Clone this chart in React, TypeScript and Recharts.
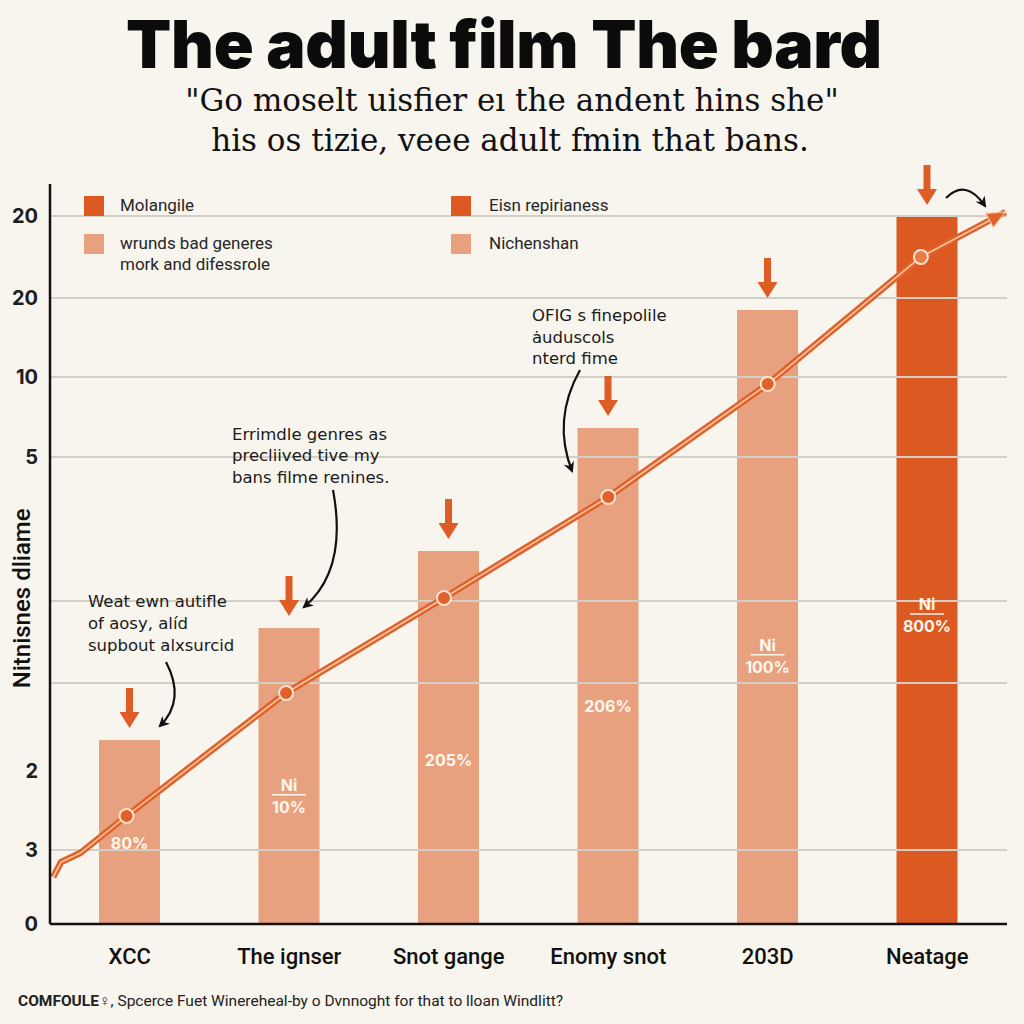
import React from "react";
import { ComposedChart, Bar, Line, XAxis, YAxis, ReferenceLine, LabelList, Legend } from "recharts";

// categories along the bottom
const categories = ["XCC", "The ignser", "Snot gange", "Enomy snot", "203D", "Neatage"];
// light bars and the one dark bar (same stack so they sit in the same slot)
const lightBars = [9.2, 14.8, 18.65, 24.8, 30.7, null];
const darkBars = [null, null, null, null, null, 35.35];
const barNotes = ["", "Ni", "", "", "Ni", "Ni"];
const barPercents = ["80%", "10%", "205%", "206%", "100%", "800%"];

// trend line, x in category units (0..6)
const lineX = [0.02, 0.07, 0.19, 0.48, 1.48, 2.47, 3.5, 4.5, 5.46, 5.99];
const lineY = [2.35, 3.1, 3.55, 5.4, 11.55, 16.3, 21.35, 27, 33.35, 35.6];
const lineMarks = [0, 0, 0, 1, 1, 1, 1, 1, 1, 0];

// the y axis as printed (labels are not in order)
const yTicks = [0, 3.7, 7.65, 12.05, 16.15, 23.35, 27.35, 31.3, 35.4];
const yTickLabels = ["0", "3", "2", "", "", "5", "10", "20", "20"];
const gridValues = [3.7, 12.05, 16.15, 23.35, 27.35, 31.3, 35.4];

const legendNames = ["Molangile", "Eisn repirianess", "wrunds bad generes\nmork and difessrole", "Nichenshan"];

const LIGHT = "#E8A17F";
const DARK = "#DC5A21";
const LINE = "#E0612A";
const BG = "#F8F5EE";

const barData = categories.map((c, i) => {
  const lbl = barNotes[i] ? `${barNotes[i]}|${barPercents[i]}` : barPercents[i];
  return {
    name: c,
    light: lightBars[i],
    dark: darkBars[i],
    lightLabel: lightBars[i] != null ? lbl : null,
    darkLabel: darkBars[i] != null ? lbl : null,
  };
});

const lineData = lineX.map((x, i) => ({ x, y: lineY[i], mark: lineMarks[i] }));

const BarText = (props: any) => {
  const { x, y, width, height, value } = props;
  if (value == null || value === "") return null;
  const cx = x + width / 2;
  const c = y + height * 0.56;
  const parts = String(value).split("|");
  const st = { fontFamily: "Inter", fontWeight: 700, fontSize: 16, fill: "#FFF6EE" } as any;
  if (parts.length === 1) {
    return <text x={cx} y={c + 6} textAnchor="middle" {...st}>{parts[0]}</text>;
  }
  return (
    <g>
      <text x={cx} y={c - 3} textAnchor="middle" {...st}>{parts[0]}</text>
      <line x1={cx - 17} x2={cx + 17} y1={c + 1} y2={c + 1} stroke="#FFF6EE" strokeWidth={1.5} />
      <text x={cx} y={c + 19} textAnchor="middle" {...st}>{parts[1]}</text>
    </g>
  );
};

const DownArrow = (props: any) => {
  const { x, y, width, value } = props;
  if (value == null) return null;
  const cx = x + width / 2;
  const tip = y - 12;
  return (
    <g>
      <rect x={cx - 3.5} y={tip - 40} width={7} height={26} fill="#DE5C26" />
      <polygon points={`${cx - 10},${tip - 16} ${cx + 10},${tip - 16} ${cx},${tip}`} fill="#DE5C26" />
    </g>
  );
};

const renderDot = (props: any) => {
  const { cx, cy, index, payload, points } = props;
  if (index === lineX.length - 1) {
    const prev = points && points[index - 1];
    const ang = prev ? Math.atan2(cy - prev.y, cx - prev.x) : -0.5;
    const L = 18, W = 8;
    const cs = Math.cos(ang), sn = Math.sin(ang);
    const bx = cx - L * cs, by = cy - L * sn;
    return (
      <polygon key={`d${index}`}
        points={`${cx},${cy} ${bx - W * sn},${by + W * cs} ${bx + W * sn},${by - W * cs}`}
        fill={LINE} stroke="#F9C7A3" strokeWidth={1.2} />
    );
  }
  if (payload && payload.mark) {
    return <circle key={`d${index}`} cx={cx} cy={cy} r={7} fill={index === 8 ? "#E97B45" : LINE} stroke="#FBE3D0" strokeWidth={2} />;
  }
  return <g key={`d${index}`} />;
};

const YTick = (props: any) => {
  const { x, y, payload } = props;
  const i = yTicks.indexOf(payload.value);
  return (
    <text x={x - 4} y={y + 7} textAnchor="end" fontFamily="Inter" fontWeight={700} fontSize={20} fill="#1e1e1e">
      {yTickLabels[i]}
    </text>
  );
};

const XTick = (props: any) => {
  const { x, y, payload } = props;
  return (
    <text x={x} y={y + 32} textAnchor="middle" fontFamily="Roboto" fontWeight={500} fontSize={22} fill="#111">
      {payload.value}
    </text>
  );
};

const YLabel = (props: any) => {
  const vb = props.viewBox || { y: 184, height: 740 };
  const cy = vb.y + vb.height * 0.56;
  return (
    <text x={30} y={cy} transform={`rotate(-90, 30, ${cy})`} textAnchor="middle"
      fontFamily="Roboto" fontWeight={500} fontSize={24} fill="#111">
      Nitnisnes dliame
    </text>
  );
};

const LegendBox = () => {
  const colors = [DARK, DARK, LIGHT, LIGHT];
  return (
    <div style={{ position: "relative", width: 620, height: 90, fontFamily: "Roboto", fontSize: 17, color: "#262626" }}>
      {legendNames.map((n, i) => {
        const col = i % 2;
        const row = Math.floor(i / 2);
        return (
          <div key={n} style={{ position: "absolute", left: col * 367, top: row * 38, display: "flex" }}>
            <div style={{ width: 20, height: 20, background: colors[i] }} />
            <div style={{ marginLeft: col ? 18 : 16, lineHeight: "21px", whiteSpace: "pre", marginTop: -1 }}>{n}</div>
          </div>
        );
      })}
    </div>
  );
};

export default function App() {
  return (
    <div style={{ position: "absolute", left: 0, top: 0, width: 1024, height: 1024, background: BG, overflow: "hidden" }}>
      <ComposedChart width={1024} height={1024} data={barData} margin={{ top: 184, right: 17, bottom: 40, left: 0 }}>
        <XAxis dataKey="name" height={60} tick={<XTick />} tickLine={false} axisLine={{ stroke: "#111", strokeWidth: 2.5 }} interval={0} />
        <XAxis xAxisId="line" type="number" dataKey="x" domain={[0, 6]} hide />
        <YAxis width={50} type="number" domain={[0, 37]} ticks={yTicks} interval={0} tick={<YTick />} tickLine={false}
          axisLine={{ stroke: "#111", strokeWidth: 2.5 }} label={<YLabel />} />
        {gridValues.map((v) => (
          <ReferenceLine key={v} y={v} stroke="#D3CFC6" strokeWidth={2} />
        ))}
        <Legend layout="vertical" align="center" verticalAlign="middle" content={<LegendBox />}
          wrapperStyle={{ position: "absolute", top: 196, left: 84, width: 620 }} />
        <Bar dataKey="light" stackId="a" barSize={61} fill={LIGHT} isAnimationActive={false}>
          <LabelList dataKey="light" content={<DownArrow />} />
          <LabelList dataKey="lightLabel" content={<BarText />} />
        </Bar>
        <Bar dataKey="dark" stackId="a" barSize={61} fill={DARK} isAnimationActive={false}>
          <LabelList dataKey="dark" content={<DownArrow />} />
          <LabelList dataKey="darkLabel" content={<BarText />} />
        </Bar>
        <Line data={lineData} xAxisId="line" dataKey="y" type="linear" stroke={LINE} strokeWidth={6.5}
          dot={false} activeDot={false} isAnimationActive={false} />
        <Line data={lineData} xAxisId="line" dataKey="y" type="linear" stroke="#F9C7A3" strokeWidth={1.6}
          dot={renderDot} activeDot={false} isAnimationActive={false} />
      </ComposedChart>

      <svg width={1024} height={1024} style={{ position: "absolute", left: 0, top: 0, pointerEvents: "none" }}>
        <defs>
          <marker id="ah" viewBox="0 0 10 10" refX="8" refY="5" markerWidth="5" markerHeight="5" orient="auto">
            <path d="M0,0 L10,5 L0,10 L3,5 Z" fill="#111" />
          </marker>
        </defs>
        <text x={504} y={68} textAnchor="middle" fontFamily="Inter" fontWeight={900} fontSize={66} letterSpacing={-0.3} fill="#0b0b0b">
          The adult film The bard
        </text>
        <g fontFamily="DejaVu Serif" fontSize={31} fill="#111" textAnchor="middle">
          <text x={512} y={111}>"Go moselt uisfier eı the andent hins she"</text>
          <text x={510} y={151}>his os tizie, veee adult fmin that bans.</text>
        </g>

        <g fontFamily="DejaVu Sans" fontSize={16.5} fill="#1a1a1a">
          <text x={88} y={607}>Weat ewn autifle</text>
          <text x={88} y={629}>of aosy, alíd</text>
          <text x={88} y={651}>supbout alxsurcid</text>

          <text x={232} y={440}>Errimdle genres as</text>
          <text x={232} y={461}>precliived tive my</text>
          <text x={232} y={483}>bans filme renines.</text>

          <text x={532} y={321}>OFIG s finepolile</text>
          <text x={532} y={343}>ȧuduscols</text>
          <text x={532} y={364}>nterd fime</text>
        </g>

        <g fill="none" stroke="#111" strokeWidth={2.2} markerEnd="url(#ah)">
          <path d="M166 662 Q186 700 160 726" />
          <path d="M333 490 Q348 570 304 607" />
          <path d="M580 370 Q552 420 572 471" />
          <path d="M946 198 Q966 178 985 206" />
        </g>

        <text x={18} y={1006} fontFamily="Roboto" fontSize={15.5} fill="#222">
          <tspan fontWeight={700}>COMFOULE♀</tspan>, Spcerce Fuet Winereheal-by o Dvnnoght for that to lloan Windlitt?
        </text>
      </svg>
    </div>
  );
}
